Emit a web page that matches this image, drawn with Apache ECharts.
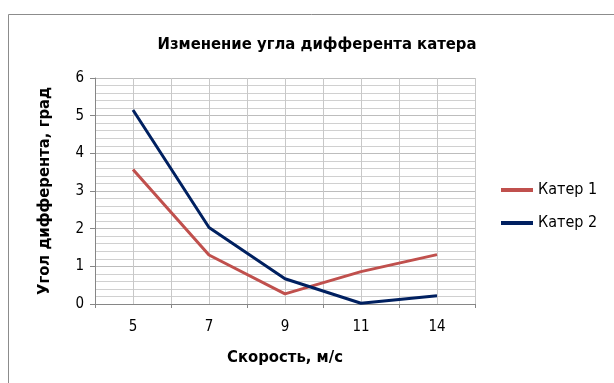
<!DOCTYPE html>
<html><head><meta charset="utf-8">
<script src="https://cdn.jsdelivr.net/npm/echarts@6/dist/echarts.min.js"></script>
<style>html,body{margin:0;padding:0;background:#fff}#c{width:614px;height:383px}</style>
</head><body><div id="c"></div>
<script>
var categories = ['5', '7', '9', '11', '14'];
var boat1 = [3.57, 1.3, 0.27, 0.86, 1.31];
var boat2 = [5.15, 2.03, 0.67, 0.02, 0.22];
var seriesNames = ['Катер 1', 'Катер 2'];
var FONT = '"Liberation Sans Narrow","DejaVu Sans Condensed","Noto Sans",sans-serif';
var chart = echarts.init(document.getElementById('c'));
chart.setOption({
  animation: false,
  backgroundColor: '#fff',
  textStyle: {fontFamily: FONT},
  graphic: [{type: 'rect', shape: {x: 8.5, y: 14.5, width: 800, height: 600}, style: {fill: 'none', stroke: '#8c8c8c', lineWidth: 1}, z: -10}],
  title: [
    {text: 'Изменение угла дифферента катера', left: 312, top: 31, textAlign: 'center', textStyle: {fontFamily: FONT, fontSize: 16.5, fontWeight: 'bold', color: '#000'}}
  ],
  legend: {
    orient: 'vertical', left: 496, top: 177, itemGap: 17, itemWidth: 32, itemHeight: 4,
    icon: 'rect',
    textStyle: {fontFamily: FONT, fontSize: 16, color: '#000'},
    data: seriesNames
  },
  grid: {left: 95, right: 139, top: 78, bottom: 79},
  xAxis: [
    {type: 'category', data: categories, boundaryGap: true,
     name: 'Скорость, м/с', nameLocation: 'middle', nameGap: 45,
     nameTextStyle: {fontFamily: FONT, fontSize: 16.5, fontWeight: 'bold', color: '#000'},
     axisLine: {lineStyle: {color: '#868686'}}, axisTick: {show: true, length: 4, lineStyle: {color: '#868686'}},
     axisLabel: {color: '#000', fontSize: 15, margin: 16, fontFamily: FONT},
     splitLine: {show: false}},
    {type: 'value', min: 0, max: 10, interval: 1, show: true, position: 'bottom',
     axisLine: {show: false}, axisTick: {show: false}, axisLabel: {show: false},
     splitLine: {show: true, lineStyle: {color: '#c8c8c8', width: 1}}}
  ],
  yAxis: {
    type: 'value', min: 0, max: 6, interval: 1,
    name: 'Угол дифферента, град', nameLocation: 'middle', nameGap: 42, nameRotate: 90,
    nameTextStyle: {fontFamily: FONT, fontSize: 16.5, fontWeight: 'bold', color: '#000'},
    axisLine: {show: true, lineStyle: {color: '#868686'}},
    axisTick: {show: true, length: 5, lineStyle: {color: '#868686'}},
    axisLabel: {color: '#000', fontSize: 15, margin: 11, fontFamily: FONT},
    splitLine: {show: true, lineStyle: {color: '#bdbdbd'}},
    minorTick: {show: false, splitNumber: 5},
    minorSplitLine: {show: true, lineStyle: {color: '#d0d0d0'}}
  },
  series: [
    {name: seriesNames[0], type: 'line', data: boat1, xAxisIndex: 0, symbol: 'none', lineStyle: {color: '#C0504D', width: 3}, itemStyle: {color: '#C0504D'}},
    {name: seriesNames[1], type: 'line', data: boat2, xAxisIndex: 0, symbol: 'none', lineStyle: {color: '#002060', width: 3}, itemStyle: {color: '#002060'}}
  ]
});
</script></body></html>
